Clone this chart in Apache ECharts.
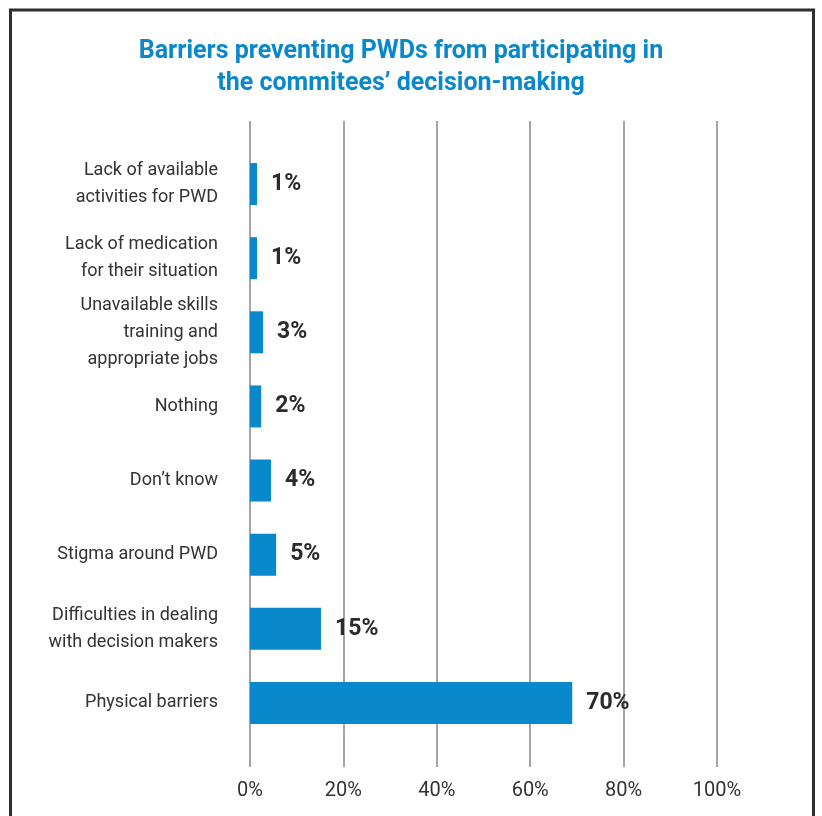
<!DOCTYPE html>
<html>
<head>
<meta charset="utf-8">
<script src="https://cdn.jsdelivr.net/npm/echarts@6/dist/echarts.min.js"></script>
<style>html,body{margin:0;padding:0;background:#fff;}#c{width:822px;height:816px;}</style>
</head>
<body>
<div id="c"></div>
<script>
var titleText = 'Barriers preventing PWDs from participating in\nthe commitees’ decision-making';
var categories = [
  'Lack of available\nactivities for PWD',
  'Lack of medication\nfor their situation',
  'Unavailable skills\ntraining and\nappropriate jobs',
  'Nothing',
  'Don’t know',
  'Stigma around PWD',
  'Difficulties in dealing\nwith decision makers',
  'Physical barriers'
];
var values = [1.5, 1.5, 2.8, 2.4, 4.5, 5.6, 15.2, 69];
var valueLabels = ['1%', '1%', '3%', '2%', '4%', '5%', '15%', '70%'];
var xTicks = [0, 20, 40, 60, 80, 100];

var chart = echarts.init(document.getElementById('c'), null, {renderer: 'canvas'});
var font = 'Roboto, "Noto Sans", sans-serif';
chart.setOption({
  animation: false,
  backgroundColor: '#fff',
  graphic: [{
    type: 'rect',
    shape: {x: 10.5, y: 10, width: 803, height: 830},
    style: {fill: 'none', stroke: '#2e2e2e', lineWidth: 3},
    silent: true
  }, {
    type: 'text',
    x: 401, y: 36,
    style: {
      text: titleText, textAlign: 'center', textVerticalAlign: 'top',
      fill: '#0a88cc', fontSize: 25, fontWeight: 'bold', fontFamily: font, lineHeight: 32
    },
    silent: true
  }],
  grid: [
    {left: 250, right: 105, top: 121, bottom: 49},
    {left: 250, right: 105, top: 147, bottom: 76}
  ],
  xAxis: [
    {
      gridIndex: 0, type: 'value', min: xTicks[0], max: xTicks[xTicks.length - 1], interval: 20,
      axisLine: {show: false}, axisTick: {show: false},
      splitLine: {show: true, lineStyle: {color: '#a5a5a5', width: 2}},
      axisLabel: {formatter: '{value}%', color: '#333', fontSize: 20, fontFamily: font, margin: 14}
    },
    {
      gridIndex: 1, type: 'value', min: 0, max: 100, show: false, splitLine: {show: false}
    }
  ],
  yAxis: [
    {gridIndex: 0, type: 'category', data: categories, inverse: true, show: false},
    {
      gridIndex: 1, type: 'category', data: categories, inverse: true,
      axisLine: {show: false}, axisTick: {show: false},
      axisLabel: {color: '#333', fontSize: 18, lineHeight: 27, fontFamily: font, margin: 32, align: 'right'}
    }
  ],
  series: [{
    type: 'bar',
    xAxisIndex: 1, yAxisIndex: 1,
    data: values,
    barWidth: 42,
    itemStyle: {color: '#0a88cc'},
    label: {
      show: true, position: 'right', distance: 14,
      formatter: function (p) { return valueLabels[p.dataIndex]; },
      color: '#2b2b2b', fontSize: 23, fontWeight: 'bold', fontFamily: font
    }
  }]
});
</script>
</body>
</html>
